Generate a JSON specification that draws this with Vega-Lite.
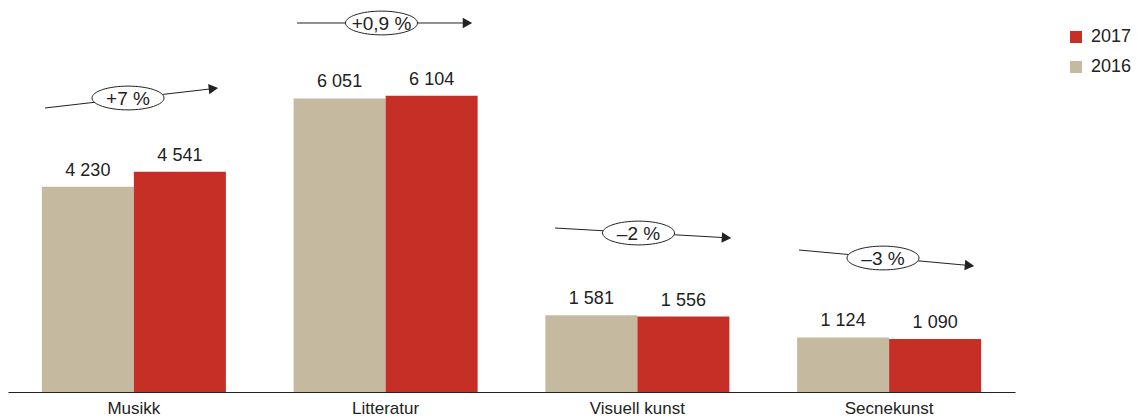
{
  "$schema": "https://vega.github.io/schema/vega-lite/v6.json",
  "autosize": {"type": "none"},
  "padding": {"left": 8, "top": 0, "right": 124, "bottom": 26},
  "width": 1007,
  "height": 392,
  "background": "white",
  "config": {
    "view": {"stroke": null},
    "font": "Liberation Sans",
    "locale": {"number": {"decimal": ",", "thousands": " ", "grouping": [3], "currency": ["", " kr"]}}
  },
  "datasets": {
    "bars": [
      {"cat": "Musikk", "year": "2016", "value": 4230},
      {"cat": "Musikk", "year": "2017", "value": 4541},
      {"cat": "Litteratur", "year": "2016", "value": 6051},
      {"cat": "Litteratur", "year": "2017", "value": 6104},
      {"cat": "Visuell kunst", "year": "2016", "value": 1581},
      {"cat": "Visuell kunst", "year": "2017", "value": 1556},
      {"cat": "Secnekunst", "year": "2016", "value": 1124},
      {"cat": "Secnekunst", "year": "2017", "value": 1090}
    ],
    "arrows": [
      {"cat": "Musikk", "label": "+7 %", "x1": 0.147, "y1": 5854, "x2": 0.816, "y2": 6254, "angle": -6.6, "lx": 0.4767, "ly": 6060},
      {"cat": "Litteratur", "label": "+0,9 %", "x1": 1.148, "y1": 7606, "x2": 1.825, "y2": 7606, "angle": 0, "lx": 1.4836, "ly": 7606},
      {"cat": "Visuell kunst", "label": "–2 %", "x1": 2.173, "y1": 3380, "x2": 2.854, "y2": 3180, "angle": 3.2, "lx": 2.5045, "ly": 3277},
      {"cat": "Secnekunst", "label": "–3 %", "x1": 3.142, "y1": 2927, "x2": 3.8193, "y2": 2607, "angle": 5.2, "lx": 3.4757, "ly": 2762}
    ]
  },
  "layer": [
    {
      "data": {"name": "bars"},
      "encoding": {
        "x": {
          "field": "cat", "type": "nominal", "sort": null,
          "scale": {"paddingInner": 0.269, "paddingOuter": 0.1345},
          "axis": {"title": null, "ticks": false, "domainColor": "#222", "domainWidth": 1.2, "labelAngle": 0, "labelFontSize": 17, "labelColor": "#222", "labelPadding": 8, "labelBaseline": "top", "labelFont": "Liberation Sans"}
        },
        "xOffset": {"field": "year", "type": "nominal", "sort": ["2016", "2017"], "scale": {"paddingInner": 0, "paddingOuter": 0}},
        "y": {"field": "value", "type": "quantitative", "scale": {"domain": [0, 8080], "nice": false, "zero": true}, "axis": null}
      },
      "layer": [
        {
          "mark": {"type": "bar", "cornerRadius": 0},
          "encoding": {
            "color": {
              "field": "year", "type": "nominal",
              "scale": {"domain": ["2017", "2016"], "range": ["#c62f25", "#c5b99f"]},
              "legend": {
                "title": null, "orient": "none", "legendX": 1059, "legendY": 28,
                "symbolType": "square", "symbolSize": 144, "symbolStrokeWidth": 0,
                "labelFontSize": 18, "labelColor": "#222", "labelOffset": 6, "rowPadding": 12,
                "labelFont": "Liberation Sans"
              }
            }
          }
        },
        {
          "mark": {"type": "text", "baseline": "alphabetic", "dy": -11, "fontSize": 18, "color": "#222"},
          "encoding": {"text": {"field": "value", "type": "quantitative", "format": ",d"}}
        }
      ]
    },
    {
      "data": {"name": "arrows"},
      "layer": [
        {
          "mark": {"type": "rule", "color": "#222", "strokeWidth": 1},
          "encoding": {
            "x": {"field": "x1", "type": "quantitative", "scale": {"domain": [0, 4], "nice": false, "zero": false}, "axis": null},
            "x2": {"field": "x2"},
            "y": {"field": "y1", "type": "quantitative", "scale": {"domain": [0, 8080], "nice": false}, "axis": null},
            "y2": {"field": "y2"}
          }
        },
        {
          "mark": {"type": "point", "shape": "M-0.9,-1L0.9,0L-0.9,1Z", "filled": true, "color": "#222", "size": 110, "opacity": 1},
          "encoding": {
            "x": {"field": "x2", "type": "quantitative", "scale": {"domain": [0, 4], "nice": false, "zero": false}, "axis": null},
            "y": {"field": "y2", "type": "quantitative", "scale": {"domain": [0, 8080], "nice": false}, "axis": null},
            "angle": {"field": "angle", "type": "quantitative", "scale": null}
          }
        },
        {
          "mark": {"type": "point", "shape": "M-1,0A1,0.33 0 1,1 1,0A1,0.33 0 1,1 -1,0Z", "filled": true, "fill": "white", "stroke": "#222", "strokeWidth": 1, "size": 5184, "opacity": 1},
          "encoding": {
            "x": {"field": "lx", "type": "quantitative", "scale": {"domain": [0, 4], "nice": false, "zero": false}, "axis": null},
            "y": {"field": "ly", "type": "quantitative", "scale": {"domain": [0, 8080], "nice": false}, "axis": null}
          }
        },
        {
          "mark": {"type": "text", "fontSize": 19, "color": "#222", "baseline": "middle", "align": "center", "dy": 1},
          "encoding": {
            "x": {"field": "lx", "type": "quantitative", "scale": {"domain": [0, 4], "nice": false, "zero": false}, "axis": null},
            "y": {"field": "ly", "type": "quantitative", "scale": {"domain": [0, 8080], "nice": false}, "axis": null},
            "text": {"field": "label", "type": "nominal"}
          }
        }
      ]
    }
  ],
  "resolve": {"scale": {"x": "independent"}, "axis": {"x": "independent"}}
}
